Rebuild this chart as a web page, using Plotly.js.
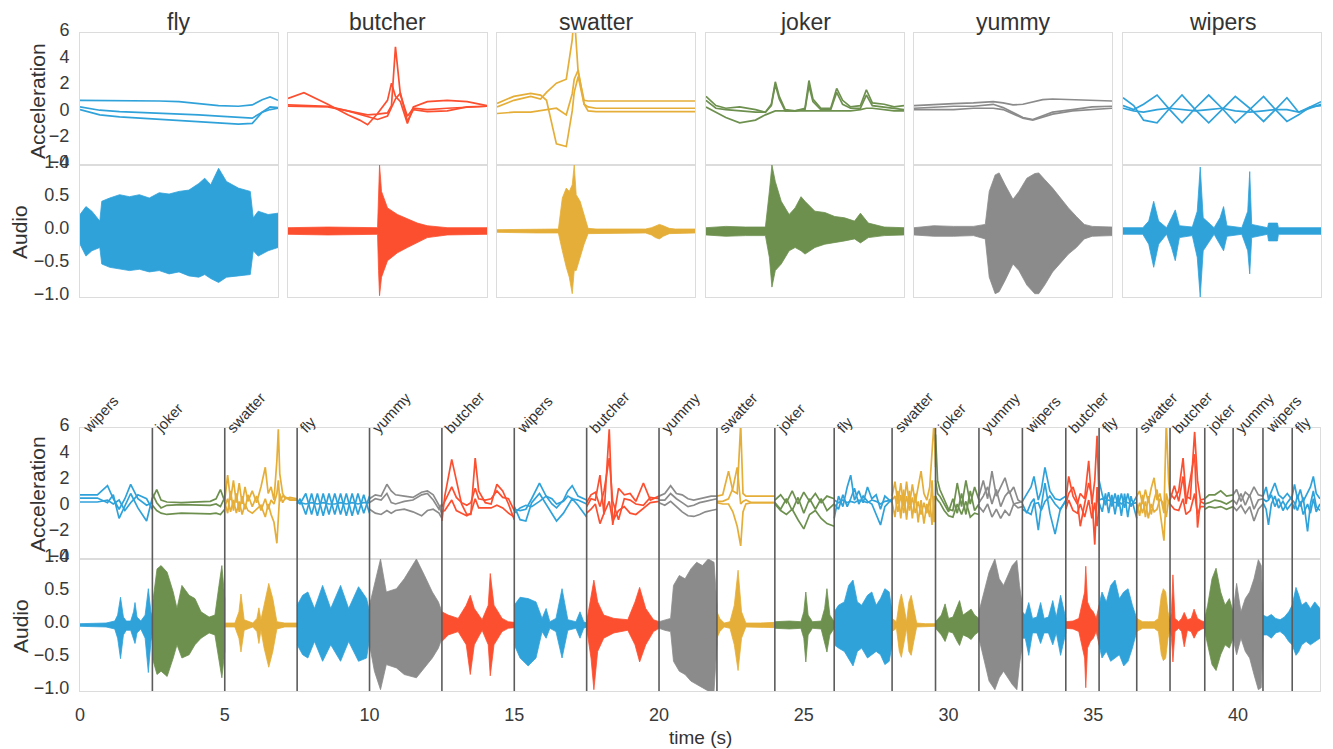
<!DOCTYPE html>
<html><head><meta charset="utf-8">
<script src="https://cdn.plot.ly/plotly-3.0.1.min.js"></script>
<style>html,body{margin:0;padding:0;background:#fff;}#chart{width:1333px;height:749px;}</style>
</head><body><div id="chart"></div>
<script>
// ---------- categories / colours ----------
const gestureNames = ['fly','butcher','swatter','joker','yummy','wipers'];
const gestureColors = {fly:'#30a2da', butcher:'#fc4f30', swatter:'#e5ae38', joker:'#6d904f', yummy:'#8b8b8b', wipers:'#30a2da'};
const accTicks = [-4,-2,0,2,4,6];
const audioTicks = [-1,-0.5,0,0.5,1];
const audioTickText = ['\u22121.0','\u22120.5','0.0','0.5','1.0'];
const accTickText = ['\u22124','\u22122','0','2','4','6'];
const timeTicks = [0,5,10,15,20,25,30,35,40];

// ---------- top row: one clip per gesture (x = fraction of clip) ----------
const topAccX = [
  [0,0.1,0.2,0.3,0.4,0.5,0.6,0.7,0.8,0.87,0.92,0.96,1.0],
  [0,0.08,0.2,0.3,0.36,0.4,0.45,0.5,0.52,0.54,0.565,0.6,0.63,0.7,0.8,0.9,1.0],
  [0,0.085,0.17,0.22,0.25,0.3,0.35,0.38,0.39,0.41,0.44,0.46,0.5,0.6,0.7,0.8,0.9,1.0],
  [0,0.05,0.1,0.17,0.25,0.3,0.33,0.35,0.37,0.4,0.45,0.5,0.52,0.54,0.58,0.63,0.66,0.69,0.73,0.78,0.81,0.84,0.9,0.95,1.0],
  [0,0.1,0.2,0.3,0.4,0.45,0.5,0.55,0.6,0.65,0.7,0.8,0.9,1.0],
  [0,0.054,0.104,0.172,0.236,0.298,0.365,0.433,0.5,0.567,0.64,0.71,0.77,0.828,0.887,0.946,1]
];
const topAcc1 = [
  [0.9,0.9,0.9,0.88,0.85,0.8,0.65,0.5,0.45,0.55,0.95,1.15,0.9],
  [1.05,1.48,0.6,-0.2,-0.6,-0.95,-0.1,0.9,2.2,1.2,0.8,-0.85,0.4,0.8,0.9,0.8,0.5],
  [0.67,1.2,1.43,1.3,0.9,-2.4,-2.6,0.1,1.5,2.7,0.6,0.4,0.3,0.3,0.3,0.3,0.3,0.3],
  [1.2,0.5,0.3,0.4,0.2,0.0,0.6,2.3,1.2,0.2,0.1,0.3,2.4,1.0,0.3,0.3,1.8,0.9,0.4,0.5,1.7,0.7,0.6,0.4,0.5],
  [0.5,0.6,0.65,0.7,0.8,0.7,0.55,0.6,0.75,0.95,1.0,0.95,0.9,0.85],
  [0.5,0.2,0.6,1.3,0.2,-0.8,0.3,1.3,0.3,-0.8,0.2,1.2,0.2,-0.7,-0.2,0.4,0.8]
];
const topAcc2 = [
  [0.4,0.15,0.05,0.0,-0.05,-0.1,-0.2,-0.3,-0.4,-0.45,0.0,0.2,0.3],
  [0.45,0.45,0.4,0.1,-0.1,-0.2,-0.15,-0.05,0.5,4.95,1.3,-0.3,0.3,0.2,0.3,0.35,0.45],
  [0.4,0.9,1.2,1.0,1.5,2.2,2.5,5.5,7.5,3.0,0.9,0.85,0.85,0.85,0.85,0.85,0.85,0.85],
  [0.9,0.3,0.2,0.1,0.0,0.0,0.5,2.1,1.0,0.1,0.1,0.2,2.0,0.8,0.2,0.2,1.5,0.6,0.3,0.3,1.3,0.5,0.4,0.3,0.2],
  [0.3,0.4,0.45,0.45,0.6,0.35,0.0,-0.4,-0.55,-0.3,0.0,0.2,0.4,0.45],
  [1.1,0.5,-0.6,-0.8,0.3,1.3,0.2,-0.8,0.2,1.2,0.3,-0.7,0.2,1.1,0.0,0.3,0.6]
];
const topAcc3 = [
  [0.2,-0.2,-0.35,-0.45,-0.55,-0.6,-0.7,-0.85,-0.9,-0.85,0.0,0.4,0.35],
  [0.55,0.5,0.45,0.1,-0.15,-0.35,-0.55,-0.3,0.3,1.0,1.45,-0.7,0.2,0.05,0.1,0.4,0.45],
  [-0.1,0,0,0.1,0.2,0.3,-0.2,1.4,2.5,3.2,0.6,0.1,0.05,0.05,0.05,0.05,0.05,0.05],
  [0.4,0.0,-0.4,-0.8,-0.6,-0.2,0.0,0.1,0.1,0.1,0.1,0.1,0.1,0.1,0.1,0.1,0.1,0.1,0.1,0.2,0.3,0.3,0.2,0.1,0.1],
  [0.2,0.2,0.2,0.3,0.3,0.2,-0.1,-0.45,-0.6,-0.4,-0.15,0.1,0.2,0.3],
  [0.3,0.1,0.0,0.2,0.3,0.2,0.1,0.2,0.3,0.1,0.0,0.1,0.2,0.2,0.0,0.4,0.5]
];
const topAudX = [
  [0,0.03,0.06,0.1,0.11,0.15,0.2,0.25,0.3,0.35,0.4,0.45,0.5,0.55,0.6,0.63,0.66,0.7,0.74,0.8,0.86,0.875,0.9,0.95,1.0],
  [0,0.2,0.45,0.455,0.46,0.47,0.5,0.55,0.6,0.65,0.7,0.8,0.9,1.0],
  [0,0.2,0.31,0.33,0.35,0.365,0.38,0.39,0.4,0.42,0.44,0.46,0.5,0.75,0.78,0.8,0.82,0.84,0.87,0.9,1.0],
  [0,0.1,0.2,0.3,0.32,0.333,0.35,0.38,0.42,0.45,0.48,0.5,0.55,0.6,0.65,0.7,0.75,0.78,0.82,0.9,1.0],
  [0,0.1,0.2,0.3,0.36,0.38,0.41,0.43,0.46,0.5,0.53,0.57,0.61,0.63,0.66,0.7,0.74,0.78,0.82,0.86,0.9,1.0],
  [0,0.1,0.13,0.155,0.18,0.22,0.245,0.264,0.285,0.35,0.375,0.39,0.405,0.46,0.49,0.508,0.525,0.6,0.63,0.64,0.65,0.73,0.735,0.78,0.785,0.85,1.0]
];
const topAudUp = [
  [0.25,0.37,0.3,0.15,0.45,0.5,0.55,0.52,0.55,0.5,0.58,0.56,0.6,0.62,0.72,0.8,0.7,0.95,0.75,0.65,0.6,0.2,0.3,0.25,0.27],
  [0.05,0.06,0.05,0.5,1.0,0.6,0.35,0.25,0.18,0.12,0.08,0.05,0.05,0.05],
  [0.02,0.03,0.03,0.5,0.65,0.6,0.7,1.0,0.55,0.45,0.25,0.04,0.03,0.03,0.05,0.08,0.1,0.08,0.04,0.03,0.03],
  [0.05,0.07,0.06,0.06,0.6,1.0,0.75,0.45,0.25,0.35,0.52,0.45,0.3,0.28,0.22,0.2,0.15,0.27,0.12,0.06,0.05],
  [0.05,0.08,0.07,0.07,0.1,0.6,0.85,0.88,0.7,0.48,0.6,0.8,0.87,0.88,0.78,0.65,0.5,0.35,0.22,0.1,0.07,0.06],
  [0.05,0.05,0.15,0.45,0.15,0.05,0.2,0.32,0.08,0.06,0.3,0.97,0.2,0.05,0.2,0.37,0.08,0.05,0.3,0.9,0.1,0.05,0.12,0.12,0.05,0.05,0.05]
];
const topAudLo = [
  [-0.2,-0.38,-0.3,-0.25,-0.5,-0.55,-0.57,-0.6,-0.58,-0.62,-0.6,-0.65,-0.62,-0.68,-0.7,-0.66,-0.72,-0.78,-0.7,-0.68,-0.66,-0.3,-0.38,-0.3,-0.25],
  [-0.05,-0.06,-0.05,-0.6,-0.98,-0.7,-0.45,-0.33,-0.25,-0.17,-0.1,-0.06,-0.05,-0.05],
  [-0.02,-0.03,-0.03,-0.3,-0.55,-0.7,-0.95,-0.6,-0.6,-0.4,-0.2,-0.04,-0.03,-0.03,-0.06,-0.1,-0.12,-0.08,-0.04,-0.03,-0.03],
  [-0.06,-0.08,-0.07,-0.07,-0.4,-0.85,-0.6,-0.5,-0.3,-0.25,-0.3,-0.35,-0.25,-0.2,-0.18,-0.15,-0.12,-0.18,-0.1,-0.07,-0.06],
  [-0.06,-0.08,-0.08,-0.07,-0.12,-0.7,-0.95,-0.92,-0.75,-0.5,-0.6,-0.82,-0.95,-0.95,-0.82,-0.62,-0.48,-0.35,-0.25,-0.12,-0.08,-0.07],
  [-0.05,-0.05,-0.2,-0.55,-0.2,-0.05,-0.25,-0.45,-0.1,-0.07,-0.4,-1.0,-0.3,-0.05,-0.2,-0.3,-0.08,-0.05,-0.3,-0.65,-0.1,-0.05,-0.15,-0.15,-0.05,-0.05,-0.05]
];

// ---------- bottom: recorded sequence ----------
const segLabels = ['wipers','joker','swatter','fly','yummy','butcher','wipers','butcher','yummy','swatter','joker','fly',
  'swatter','joker','yummy','wipers','butcher','fly','swatter','butcher','joker','yummy','wipers','fly'];
const segBounds = [0,2.5,5.0,7.5,10.0,12.5,15.0,17.5,20.0,22.0,24.0,26.05,28.05,29.55,31.05,32.55,34.05,35.2,36.5,37.65,38.85,39.83,40.86,41.87,42.83];

const segAccT = [
  [0,0.6,0.95,1.15,1.35,1.55,1.75,2.0,2.3,2.5],
  [2.5,2.65,2.8,3.0,3.5,4.0,4.5,4.7,4.85,5.0],
  [5.0,5.1,5.2,5.3,5.4,5.5,5.6,5.7,5.8,5.95,6.1,6.25,6.4,6.5,6.6,6.7,6.8,6.85,6.9,7.0,7.1,7.25,7.5],
  [7.5,7.6,7.8,8.0,8.2,8.4,8.6,8.8,9.0,9.2,9.4,9.6,9.8,10.0],
  [10.0,10.2,10.4,10.6,10.75,10.9,11.2,11.5,11.8,12.0,12.2,12.4,12.5],
  [12.5,12.6,12.84,13.0,13.18,13.36,13.5,13.65,13.77,14.0,14.2,14.4,14.6,14.8,15.0],
  [15.0,15.2,15.4,15.6,15.87,16.1,16.3,16.46,16.7,16.85,17.0,17.2,17.5],
  [17.5,17.65,17.8,17.96,18.1,18.28,18.4,18.6,18.8,19.0,19.2,19.46,19.7,20.0],
  [20.0,20.2,20.4,20.6,20.8,21.0,21.2,21.4,21.6,21.8,22.0],
  [22.0,22.2,22.4,22.55,22.7,22.82,22.9,23.0,23.2,23.5,24.0],
  [24.0,24.2,24.4,24.6,24.8,25.0,25.2,25.4,25.6,25.8,26.05],
  [26.05,26.2,26.35,26.5,26.62,26.75,26.9,27.05,27.2,27.35,27.5,27.65,27.8,28.05],
  [28.05,28.15,28.25,28.35,28.45,28.55,28.65,28.75,28.85,28.95,29.05,29.15,29.25,29.35,29.43,29.5,29.55],
  [29.55,29.62,29.7,29.85,30.0,30.15,30.3,30.45,30.6,30.75,30.9,31.05],
  [31.05,31.2,31.35,31.5,31.65,31.8,31.95,32.1,32.25,32.4,32.55],
  [32.55,32.7,32.85,32.95,33.1,33.2,33.33,33.5,33.68,33.85,34.05],
  [34.05,34.15,34.3,34.45,34.55,34.7,34.84,34.95,35.05,35.13,35.2],
  [35.2,35.31,35.42,35.53,35.64,35.75,35.86,35.97,36.08,36.19,36.3,36.5],
  [36.5,36.6,36.7,36.8,36.9,37.0,37.1,37.2,37.3,37.44,37.52,37.6,37.65],
  [37.65,37.8,37.95,38.1,38.2,38.35,38.5,38.6,38.7,38.85],
  [38.85,39.0,39.2,39.4,39.6,39.83],
  [39.83,39.95,40.1,40.25,40.4,40.55,40.7,40.86],
  [40.86,40.97,41.05,41.15,41.27,41.4,41.55,41.7,41.87],
  [41.87,41.95,42.05,42.15,42.25,42.4,42.5,42.6,42.7,42.83]
];
const segAcc1 = [
  [0.9,0.9,1.6,0.6,-0.2,0.6,1.7,0.6,0.1,0.3],
  [0.6,1.3,0.5,0.35,0.3,0.35,0.4,0.6,1.3,0.4],
  [0.5,2.4,0.5,2.0,0.3,1.8,0.2,1.5,0.4,1.2,0.3,1.5,3.0,1.0,1.5,0.5,3.5,5.9,2.5,1.0,0.6,0.7,0.6],
  [0.4,0.2,1.0,-0.6,1.0,-0.7,1.0,-0.6,1.0,-0.7,1.0,-0.6,0.9,-0.5],
  [0.6,0.9,0.8,1.7,1.2,0.9,0.8,0.7,1.1,1.2,0.9,0.1,-0.6],
  [-1.1,0.8,3.6,1.9,0.2,-0.6,-0.6,3.7,1.2,0.3,0.2,1.7,1.2,0.2,-1.0],
  [-0.2,-0.3,-0.2,0.6,1.8,0.8,0.2,-0.1,0.5,1.2,1.6,0.8,0.5],
  [0.0,0.6,0.5,2.4,-0.6,5.9,-1.4,1.4,0.9,1.0,0.4,1.8,0.5,0.8],
  [0.8,1.0,1.6,1.0,0.9,0.6,0.5,0.6,0.7,0.8,0.8],
  [0.8,0.9,2.7,1.2,1.0,6.3,1.0,0.8,0.8,0.8,0.8],
  [0.5,0.9,0.3,1.2,0.2,1.1,0.4,1.0,0.3,0.8,0.6],
  [-0.9,0.8,0.0,1.5,2.4,0.5,1.2,0.3,1.5,0.6,0.9,-0.2,0.8,0.3],
  [0.8,1.9,0.2,1.8,0.0,1.9,0.1,1.7,0.3,1.5,2.7,1.0,0.5,1.5,4.5,6.5,3.0],
  [5.5,2.0,1.3,0.5,-0.2,-0.3,1.8,0.0,2.0,0.2,1.5,0.5],
  [0.8,2.0,0.6,2.7,0.8,1.5,2.2,1.0,1.5,0.5,0.3],
  [0.4,0.9,1.5,2.3,0.5,1.2,3.0,1.2,0.6,0.5,0.8],
  [0.5,2.3,0.8,0.2,1.0,0.6,3.5,0.2,2.0,5.4,0.5],
  [2.0,0.9,0.1,1.1,0.0,1.0,0.0,1.0,-0.1,1.0,0.0,0.8],
  [0.8,1.2,0.2,1.3,0.3,1.4,2.2,0.5,1.0,-0.5,6.5,2.0,0.8],
  [1.0,0.6,1.2,3.7,0.8,0.6,5.7,2.0,0.5,0.6],
  [0.6,0.9,0.9,1.2,0.8,0.9],
  [0.9,1.3,0.4,1.1,0.8,1.5,0.9,0.8],
  [0.8,1.5,0.6,1.2,1.8,0.9,0.6,1.0,0.5],
  [0.8,1.7,0.6,1.3,0.4,1.0,1.5,2.3,1.0,0.6]
];
const segAcc2 = [
  [0.65,0.65,0.3,0.9,-0.9,0.1,1.0,-0.1,-1.1,0.7],
  [1.0,0.3,-0.1,0.1,0.15,0.1,0.1,0.2,0.0,0.7],
  [0.3,-0.5,1.2,-0.3,1.0,-0.4,0.8,-0.2,0.9,0.0,0.8,-0.3,0.6,-0.2,0.5,0.2,1.0,2.0,0.4,0.8,0.7,0.6,0.5],
  [0.2,0.6,-0.6,1.0,-0.7,1.0,-0.6,1.0,-0.6,1.0,-0.7,1.0,-0.5,0.8],
  [0.3,0.6,0.5,1.0,0.3,0.2,0.4,0.5,0.9,1.0,0.5,-0.2,0.2],
  [0.0,0.4,1.5,0.7,0.3,0.1,0.3,1.4,0.6,0.5,0.6,1.2,0.7,0.6,-0.3],
  [0.0,-1.0,-1.1,0.3,1.0,0.2,-0.6,-1.1,-0.5,0.0,0.6,0.1,-0.8],
  [0.3,0.9,1.1,0.0,1.2,3.7,0.4,-1.0,0.6,0.5,0.2,0.1,0.7,0.6],
  [0.5,0.5,1.0,0.6,0.3,0.0,0.1,0.3,0.4,0.5,0.6],
  [0.4,0.4,0.6,1.4,3.0,0.2,0.4,0.5,0.3,0.3,0.3],
  [0.3,-0.2,0.6,-0.3,0.7,-0.5,0.6,-0.2,0.6,-0.3,0.2],
  [0.2,-0.2,0.9,0.0,0.6,1.4,0.2,0.8,0.4,0.2,-0.6,-1.4,0.0,0.6],
  [0.3,-0.8,1.2,-0.9,1.3,-1.0,1.2,-0.9,1.0,-1.2,0.5,-1.3,0.2,-0.8,2.0,-1.2,0.8],
  [2.0,1.0,0.8,0.2,-0.4,0.6,-0.5,1.0,-0.6,1.2,-0.3,0.2],
  [0.3,0.8,1.5,0.2,1.3,0.0,0.8,1.2,0.2,0.3,0.4],
  [0.2,-0.5,0.3,0.6,-1.8,0.0,1.8,-0.5,-2.1,-0.3,0.5],
  [0.2,1.0,1.5,0.4,-1.5,0.3,1.8,0.8,-2.9,1.5,-0.5],
  [0.3,-0.4,1.0,-0.5,0.9,-0.6,0.9,-0.7,1.0,-0.8,0.8,-0.9],
  [0.2,-0.7,0.9,-0.8,0.8,-0.6,0.5,1.3,-0.3,-2.6,1.0,0.3,0.5],
  [0.5,1.6,0.4,2.3,0.2,2.0,4.0,-1.6,0.4,0.2],
  [0.2,0.3,0.5,0.4,0.2,0.5],
  [0.5,0.2,1.0,0.1,0.9,-0.2,0.5,0.6],
  [0.3,-0.2,-1.4,0.2,0.8,-0.1,0.4,-0.2,0.3],
  [0.3,-0.2,0.9,0.0,0.7,-1.9,0.2,1.2,0.0,-0.3]
];
const segAcc3 = [
  [0.35,0.35,0.5,0.2,0.5,-0.3,0.3,0.9,0.6,-0.2],
  [0.1,-0.3,-0.5,-0.6,-0.5,-0.55,-0.55,-0.5,-0.6,-0.2],
  [0.0,0.6,-0.4,0.5,-0.5,0.4,-0.6,0.2,-0.3,-0.5,-0.2,0.1,-0.8,0.2,-0.6,-1.2,-2.8,-0.5,1.0,0.3,0.7,0.5,0.5],
  [0.4,0.3,0.2,0.3,0.2,0.3,0.2,0.2,0.3,0.2,0.3,0.2,0.3,0.3],
  [-0.2,-0.5,-0.6,-0.3,-0.5,-0.3,-0.2,-0.4,-0.7,-0.3,-0.2,-0.5,-0.9],
  [-0.4,-0.3,0.5,-0.3,-0.5,-0.7,-0.5,0.6,-0.1,-0.1,-0.1,0.1,-0.1,-0.5,-0.8],
  [-0.5,-0.1,0.1,0.0,0.4,0.8,0.6,0.2,0.4,0.8,0.6,0.5,0.2],
  [-0.5,-0.2,0.2,-1.3,-0.5,0.4,-1.1,-0.3,0.0,-0.5,-0.6,-0.1,0.3,0.4],
  [0.3,0.1,0.4,0.0,-0.4,-0.7,-0.75,-0.6,-0.4,-0.3,-0.2],
  [0.3,0.2,0.2,-0.4,-1.5,-3.0,-0.4,0.2,0.3,0.3,0.3],
  [0.2,-0.3,-0.6,-0.2,-1.0,-1.7,-0.6,-0.3,-0.9,-1.3,-1.5],
  [0.5,0.3,0.5,0.3,0.4,0.3,0.5,0.4,0.3,0.5,0.4,0.2,0.4,0.5],
  [0.5,0.8,-0.4,0.9,-0.5,0.8,-0.3,0.7,-0.5,0.4,-0.6,0.3,-0.5,0.6,-1.4,0.8,0.5],
  [0.8,0.5,0.3,-0.3,-0.7,-0.8,0.2,-0.6,0.4,-0.8,-0.5,-0.6],
  [0.0,-0.4,0.2,-0.8,-0.2,-0.9,-0.3,-0.7,0.2,-0.1,0.0],
  [-0.2,-0.4,-0.6,0.2,0.3,-0.3,0.4,0.8,0.2,-0.2,0.4],
  [-0.2,0.5,-0.3,-0.5,0.2,-0.8,0.5,-0.9,0.3,-1.5,0.2],
  [0.5,0.6,0.4,0.5,0.4,0.3,0.4,0.2,0.4,0.3,0.2,0.3],
  [-0.5,0.3,-0.5,0.4,-0.9,0.2,-0.4,-0.2,0.6,0.2,-0.8,0.5,0.2],
  [0.2,-0.2,-0.3,0.6,-0.6,-0.3,1.0,-0.6,0.0,0.0],
  [-0.2,0.0,-0.1,0.0,-0.2,0.0],
  [0.0,-0.3,0.1,-0.5,0.0,-1.1,-0.2,0.2],
  [0.6,0.4,0.5,0.9,0.0,0.6,-0.3,0.3,0.8],
  [0.5,0.3,-0.3,0.4,-0.6,0.2,-0.5,0.6,-0.4,0.2]
];

const segAudT = [
  [0,0.9,1.2,1.3,1.4,1.5,1.6,1.75,1.85,1.9,1.97,2.1,2.25,2.36,2.45,2.5],
  [2.5,2.66,2.8,3.01,3.22,3.35,3.52,3.77,3.97,4.18,4.46,4.66,4.8,4.9,5.0],
  [5.0,5.35,5.49,5.56,5.67,5.97,6.11,6.18,6.25,6.36,6.52,6.66,6.8,7.07,7.5],
  [7.5,7.69,7.87,8.1,8.38,8.66,9.0,9.28,9.62,9.9,10.0],
  [10.0,10.17,10.38,10.58,10.93,11.2,11.62,11.9,12.17,12.38,12.5],
  [12.5,12.72,13.06,13.34,13.48,13.62,13.89,14.1,14.17,14.3,14.58,14.79,15.0],
  [15.0,15.2,15.48,15.75,15.96,16.1,16.23,16.44,16.65,16.85,17.13,17.27,17.4,17.5],
  [17.5,17.65,17.75,17.88,18.09,18.44,18.92,19.17,19.33,19.54,19.81,20.0],
  [20.0,20.2,20.4,20.5,20.7,20.9,21.1,21.3,21.5,21.7,21.9,22.0],
  [22.0,22.1,22.25,22.45,22.6,22.73,22.85,23.0,23.5,24.0],
  [24.0,24.5,24.9,25.0,25.07,25.15,25.3,25.6,25.72,25.8,25.9,26.05],
  [26.05,26.2,26.4,26.55,26.7,26.85,27.0,27.2,27.35,27.5,27.65,27.8,27.95,28.05],
  [28.05,28.2,28.3,28.37,28.45,28.55,28.63,28.71,28.8,28.9,29.2,29.55],
  [29.55,29.75,29.88,30.0,30.15,30.3,30.38,30.5,30.65,30.78,30.9,31.05],
  [31.05,31.2,31.4,31.6,31.75,31.9,32.05,32.2,32.36,32.45,32.55],
  [32.55,32.65,32.77,32.9,33.05,33.18,33.3,33.45,33.6,33.72,33.87,34.05],
  [34.05,34.3,34.5,34.6,34.7,34.74,34.8,34.9,35.0,35.1,35.2],
  [35.2,35.3,35.45,35.6,35.75,35.9,36.05,36.2,36.35,36.5],
  [36.5,36.7,36.9,37.1,37.25,37.35,37.42,37.5,37.58,37.65],
  [37.65,37.7,37.75,37.82,37.95,38.05,38.14,38.25,38.38,38.48,38.6,38.75,38.85],
  [38.85,38.95,39.1,39.24,39.4,39.55,39.7,39.83],
  [39.83,39.95,40.1,40.25,40.4,40.55,40.7,40.8,40.86],
  [40.86,41.0,41.15,41.3,41.45,41.6,41.75,41.87],
  [41.87,42.0,42.1,42.2,42.35,42.5,42.65,42.83]
];
const segAudUp = [
  [0.02,0.03,0.06,0.15,0.42,0.12,0.06,0.06,0.2,0.34,0.12,0.06,0.15,0.55,0.2,0.1],
  [0.3,0.85,0.9,0.8,0.5,0.25,0.6,0.45,0.4,0.2,0.12,0.15,0.6,0.9,0.4],
  [0.03,0.03,0.2,0.47,0.08,0.03,0.1,0.26,0.08,0.3,0.63,0.4,0.05,0.03,0.03],
  [0.3,0.45,0.5,0.25,0.6,0.25,0.6,0.25,0.58,0.4,0.2],
  [0.3,0.6,1.0,0.5,0.55,0.7,1.0,0.75,0.5,0.35,0.2],
  [0.2,0.15,0.1,0.3,0.45,0.25,0.08,0.3,0.78,0.3,0.1,0.05,0.04],
  [0.3,0.42,0.4,0.35,0.1,0.25,0.05,0.1,0.55,0.08,0.05,0.2,0.05,0.03],
  [0.05,0.4,0.68,0.35,0.15,0.1,0.08,0.35,0.57,0.25,0.08,0.05],
  [0.05,0.08,0.1,0.6,0.75,0.7,0.85,0.95,0.9,1.0,0.95,0.3],
  [0.2,0.1,0.03,0.05,0.3,0.83,0.2,0.03,0.03,0.04],
  [0.05,0.06,0.05,0.2,0.5,0.15,0.05,0.06,0.25,0.55,0.15,0.05],
  [0.2,0.3,0.35,0.6,0.68,0.35,0.3,0.45,0.5,0.3,0.4,0.55,0.5,0.2],
  [0.1,0.05,0.35,0.47,0.3,0.05,0.35,0.45,0.25,0.03,0.02,0.02],
  [0.05,0.15,0.32,0.1,0.12,0.3,0.37,0.15,0.2,0.24,0.15,0.1],
  [0.2,0.45,0.8,1.0,0.7,0.6,0.75,0.9,0.98,0.6,0.3],
  [0.2,0.15,0.34,0.1,0.12,0.34,0.1,0.12,0.37,0.12,0.45,0.1],
  [0.05,0.06,0.1,0.3,0.5,0.89,0.35,0.25,0.2,0.1,0.3],
  [0.3,0.5,0.35,0.6,0.68,0.4,0.5,0.55,0.3,0.1],
  [0.1,0.05,0.05,0.05,0.1,0.45,0.55,0.5,0.2,0.05],
  [0.05,0.2,0.76,0.1,0.05,0.1,0.19,0.08,0.1,0.24,0.1,0.06,0.05],
  [0.1,0.3,0.7,0.86,0.5,0.3,0.4,0.2],
  [0.2,0.63,0.2,0.4,0.5,0.7,0.99,0.9,0.3],
  [0.15,0.12,0.16,0.1,0.08,0.12,0.2,0.3],
  [0.3,0.57,0.45,0.3,0.35,0.25,0.35,0.25]
];
const segAudLo = [
  [-0.02,-0.03,-0.06,-0.2,-0.51,-0.15,-0.08,-0.08,-0.2,-0.28,-0.12,-0.06,-0.2,-0.72,-0.25,-0.1],
  [-0.5,-0.75,-0.7,-0.78,-0.5,-0.3,-0.5,-0.45,-0.3,-0.2,-0.12,-0.15,-0.5,-0.8,-0.4],
  [-0.03,-0.03,-0.2,-0.41,-0.08,-0.03,-0.1,-0.28,-0.08,-0.35,-0.64,-0.4,-0.06,-0.03,-0.03],
  [-0.3,-0.45,-0.5,-0.25,-0.55,-0.3,-0.55,-0.25,-0.55,-0.5,-0.2],
  [-0.3,-0.7,-0.98,-0.6,-0.65,-0.75,-0.8,-0.65,-0.5,-0.35,-0.2],
  [-0.25,-0.15,-0.1,-0.3,-0.75,-0.3,-0.08,-0.3,-0.77,-0.3,-0.1,-0.05,-0.04],
  [-0.3,-0.5,-0.62,-0.5,-0.1,-0.2,-0.05,-0.1,-0.5,-0.08,-0.05,-0.2,-0.05,-0.03],
  [-0.05,-0.5,-0.98,-0.4,-0.2,-0.12,-0.08,-0.3,-0.56,-0.3,-0.1,-0.05],
  [-0.05,-0.08,-0.1,-0.55,-0.7,-0.75,-0.85,-0.9,-0.95,-1.0,-1.0,-0.3],
  [-0.2,-0.1,-0.03,-0.05,-0.3,-0.69,-0.2,-0.03,-0.03,-0.04],
  [-0.05,-0.06,-0.05,-0.2,-0.56,-0.15,-0.05,-0.06,-0.25,-0.41,-0.15,-0.05],
  [-0.3,-0.35,-0.4,-0.5,-0.62,-0.4,-0.35,-0.5,-0.45,-0.4,-0.45,-0.6,-0.55,-0.3],
  [-0.1,-0.05,-0.4,-0.49,-0.3,-0.05,-0.4,-0.46,-0.25,-0.03,-0.02,-0.02],
  [-0.05,-0.15,-0.25,-0.1,-0.12,-0.25,-0.31,-0.15,-0.18,-0.22,-0.15,-0.1],
  [-0.2,-0.5,-0.85,-0.98,-0.8,-0.7,-0.8,-0.9,-0.98,-0.6,-0.3],
  [-0.2,-0.2,-0.46,-0.12,-0.12,-0.28,-0.12,-0.12,-0.3,-0.12,-0.46,-0.12],
  [-0.05,-0.06,-0.1,-0.3,-0.5,-0.95,-0.35,-0.25,-0.2,-0.1,-0.3],
  [-0.3,-0.5,-0.4,-0.55,-0.5,-0.45,-0.62,-0.55,-0.35,-0.1],
  [-0.1,-0.05,-0.05,-0.05,-0.1,-0.45,-0.54,-0.5,-0.2,-0.05],
  [-0.05,-0.2,-0.56,-0.1,-0.05,-0.1,-0.33,-0.08,-0.1,-0.2,-0.1,-0.06,-0.05],
  [-0.1,-0.3,-0.6,-0.69,-0.45,-0.3,-0.35,-0.2],
  [-0.2,-0.45,-0.2,-0.4,-0.5,-0.75,-0.98,-0.95,-0.3],
  [-0.15,-0.15,-0.2,-0.12,-0.1,-0.15,-0.25,-0.3],
  [-0.3,-0.46,-0.4,-0.3,-0.25,-0.3,-0.25,-0.2]
];

// ---------- build ----------
const W = 1333, H = 749;
const FONT = 'Liberation Sans, Arial, Helvetica, sans-serif';
const TXT = '#3a3a3a';
const BORDER = '#dcdcdc';
const px = v => v / W;
const py = v => 1 - v / H;
const colX = [[80,278],[288,487],[497,695],[706,904],[914,1112],[1123,1321]];
const topAccY = [33,165], topAudY = [165,297], botAccY = [428,559], botAudY = [559,691];
const botX = [80,1320];

const traces = [];
const layout = {
  width: W, height: H, margin: {l:0,r:0,t:0,b:0},
  paper_bgcolor: '#ffffff', plot_bgcolor: '#ffffff',
  showlegend: false, font: {family: FONT, color: TXT},
  annotations: [], shapes: []
};
const key = n => (n === 1 ? '' : String(n));
function polygon(xs, up, lo) {
  return {x: xs.concat(xs.slice().reverse()), y: up.concat(lo.slice().reverse())};
}
function xAxisCfg(dom, range, anchor, showLabels) {
  return {domain: [px(dom[0]), px(dom[1])], range: range, anchor: anchor,
    showline: true, mirror: true, linecolor: BORDER, linewidth: 1,
    showgrid: false, zeroline: false, ticks: '', showticklabels: showLabels,
    fixedrange: true};
}
function yAxisCfg(dom, range, anchor, showLabels, tv, tt) {
  return {domain: [py(dom[1]), py(dom[0])], range: range, anchor: anchor,
    showline: true, mirror: true, linecolor: BORDER, linewidth: 1,
    showgrid: false, zeroline: false, ticks: '', showticklabels: showLabels,
    tickvals: tv, ticktext: tt, tickfont: {size: 18, color: TXT, family: FONT},
    ticklabelstandoff: 6, ticklabelshift: -3, fixedrange: true};
}

gestureNames.forEach((g, i) => {
  const na = i*2 + 1, nb = i*2 + 2;
  const col = gestureColors[g];
  layout['xaxis' + key(na)] = xAxisCfg(colX[i], [0,1], 'y' + key(na), false);
  layout['yaxis' + key(na)] = yAxisCfg(topAccY, [-4,6], 'x' + key(na), i === 0, accTicks, accTickText);
  layout['xaxis' + key(nb)] = xAxisCfg(colX[i], [0,1], 'y' + key(nb), false);
  layout['yaxis' + key(nb)] = yAxisCfg(topAudY, [-1,1], 'x' + key(nb), i === 0, audioTicks, audioTickText);
  [topAcc1[i], topAcc2[i], topAcc3[i]].forEach(ys => {
    traces.push({type:'scatter', mode:'lines', x: topAccX[i], y: ys, xaxis:'x'+key(na), yaxis:'y'+key(na),
      line:{color: col, width: 1.7}, hoverinfo:'skip'});
  });
  const p = polygon(topAudX[i], topAudUp[i], topAudLo[i]);
  traces.push({type:'scatter', mode:'lines', x: p.x, y: p.y, fill:'toself', fillcolor: col,
    xaxis:'x'+key(nb), yaxis:'y'+key(nb), line:{color: col, width: 0.8}, hoverinfo:'skip'});
  layout.annotations.push({text: g, xref:'paper', yref:'paper', x: px((colX[i][0]+colX[i][1])/2), y: py(22),
    xanchor:'center', yanchor:'middle', showarrow:false, font:{size:23, color:'#333', family: FONT}});
});

// bottom axes
const tEnd = segBounds[segBounds.length - 1];
layout.xaxis13 = xAxisCfg(botX, [0, tEnd], 'y13', false);
layout.yaxis13 = yAxisCfg(botAccY, [-4,6], 'x13', true, accTicks, accTickText);
layout.xaxis14 = Object.assign(xAxisCfg(botX, [0, tEnd], 'y14', true),
  {tickvals: timeTicks, tickfont:{size:18, color: TXT, family: FONT}, ticklabelstandoff: 7});
layout.yaxis14 = yAxisCfg(botAudY, [-1,1], 'x14', true, audioTicks, audioTickText);

segLabels.forEach((g, s) => {
  const col = gestureColors[g];
  [segAcc1[s], segAcc2[s], segAcc3[s]].forEach(ys => {
    traces.push({type:'scatter', mode:'lines', x: segAccT[s], y: ys, xaxis:'x13', yaxis:'y13',
      line:{color: col, width: 1.7}, hoverinfo:'skip'});
  });
  const p = polygon(segAudT[s], segAudUp[s], segAudLo[s]);
  traces.push({type:'scatter', mode:'lines', x: p.x, y: p.y, fill:'toself', fillcolor: col,
    xaxis:'x14', yaxis:'y14', line:{color: col, width: 0.8}, hoverinfo:'skip'});
  layout.annotations.push({text: g, xref:'x14', yref:'paper', x: segBounds[s], y: py(439),
    xanchor:'left', yanchor:'bottom', textangle: -47, showarrow:false, xshift: -4,
    font:{size:15, color:'#333', family: FONT}});
});
segBounds.slice(1, -1).forEach(b => {
  layout.shapes.push({type:'line', xref:'x14', yref:'paper', x0: b, x1: b, y0: py(botAudY[1]), y1: py(botAccY[0]),
    line:{color:'#5c5c5c', width:1.6}, layer:'above'});
});

// axis titles
const yTitle = (text, x, y) => layout.annotations.push({text, xref:'paper', yref:'paper', x: px(x), y: py(y),
  xanchor:'center', yanchor:'middle', textangle:-90, showarrow:false, font:{size:21, color:'#333', family: FONT}});
yTitle('Acceleration', 37, 101);
yTitle('Audio', 20, 232);
yTitle('Acceleration', 37, 494);
yTitle('Audio', 20, 626);
layout.annotations.push({text:'time (s)', xref:'paper', yref:'paper', x: px(700), y: py(737),
  xanchor:'center', yanchor:'middle', showarrow:false, font:{size:19, color:'#333', family: FONT}});

Plotly.newPlot('chart', traces, layout, {staticPlot: true, displayModeBar: false});
</script></body></html>
